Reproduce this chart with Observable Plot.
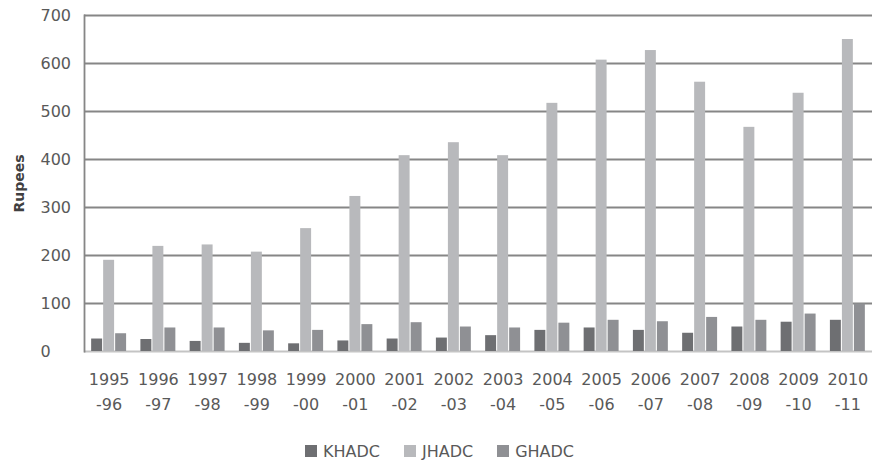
<!DOCTYPE html>
<html>
<head>
<meta charset="utf-8">
<script src="https://cdn.jsdelivr.net/npm/d3@7"></script>
<script src="https://cdn.jsdelivr.net/npm/@observablehq/plot@0.6"></script>
<style>
  html, body { margin: 0; padding: 0; background: #fff; }
  #chart { width: 872px; }
  #chart g[aria-label="y-axis label"] text { font-size: 14px; font-weight: bold; fill: #404040; }
  .legend {
    display: flex; align-items: center; height: 34px; box-sizing: border-box;
    padding-left: 305px; padding-top: 8px;
    font-family: "DejaVu Sans", sans-serif; font-size: 16px; color: #595959;
  }
  .legend .item { display: flex; align-items: center; margin-right: 24px; }
  .legend .swatch { width: 12px; height: 12px; margin-right: 6px; }
</style>
</head>
<body>
<div id="chart"></div>
<div class="legend" id="legend"></div>
<script>
// Financial years on the x axis
const years = ["1995-96", "1996-97", "1997-98", "1998-99", "1999-00", "2000-01", "2001-02", "2002-03",
               "2003-04", "2004-05", "2005-06", "2006-07", "2007-08", "2008-09", "2009-10", "2010-11"];

// Series names and values (Rupees)
const series = ["KHADC", "JHADC", "GHADC"];
const khadc = [26, 25, 21, 17, 16, 22, 26, 28, 33, 44, 49, 44, 38, 51, 61, 65];
const jhadc = [190, 219, 222, 207, 256, 323, 408, 435, 408, 517, 607, 627, 561, 467, 538, 650];
const ghadc = [37, 49, 49, 43, 44, 56, 60, 51, 49, 59, 65, 62, 71, 65, 78, 99];

// Y axis ticks
const yTicks = [0, 100, 200, 300, 400, 500, 600, 700];

const colors = {KHADC: "#6e6f72", JHADC: "#b8b9bc", GHADC: "#8f9094"};
const valuesBySeries = {KHADC: khadc, JHADC: jhadc, GHADC: ghadc};

const rows = series.flatMap(s => years.map((year, i) => ({year, series: s, value: valuesBySeries[s][i]})));

// Each group occupies the band; the three bars split it into thirds
const barWidth = 12;
const barMarks = series.map((s, k) => Plot.barY(rows.filter(d => d.series === s), {
  x: "year",
  y: "value",
  fill: colors[s],
  insetLeft: k * barWidth + 0.5,
  insetRight: (series.length - 1 - k) * barWidth + 0.5
}));

const chart = Plot.plot({
  width: 872,
  height: 430,
  marginTop: 15,
  marginBottom: 79,
  marginLeft: 84,
  marginRight: 0,
  style: {fontFamily: "DejaVu Sans, sans-serif", fontSize: "16px", color: "#595959", background: "#fff"},
  x: {domain: years, paddingInner: 0.27, paddingOuter: 0.135, round: false, label: null, axis: null},
  y: {domain: [0, 700], label: null, axis: null},
  marks: [
    Plot.ruleY(yTicks.filter(v => v > 0), {stroke: "#868686", strokeWidth: 1.8}),
    Plot.ruleY([0], {stroke: "#c4c4c4", strokeWidth: 2}),
    Plot.frame({anchor: "left", stroke: "#868686", strokeWidth: 1.8}),
    ...barMarks,
    Plot.axisY({
      ticks: yTicks, tickSize: 0, tickPadding: 44, textAnchor: "start",
      label: "Rupees", labelAnchor: "center", labelOffset: 70, labelArrow: false,
      fill: "#595959"
    }),
    Plot.axisX({
      tickSize: 0, tickPadding: 15, lineHeight: 1.6, label: null,
      tickFormat: d => d.replace("-", "\n-"), fill: "#595959"
    })
  ]
});
document.getElementById("chart").append(chart);

// Legend below the chart
const legend = document.getElementById("legend");
for (const s of series) {
  const item = document.createElement("div");
  item.className = "item";
  item.innerHTML = `<span class="swatch" style="background:${colors[s]}"></span><span>${s}</span>`;
  legend.append(item);
}
</script>
</body>
</html>
